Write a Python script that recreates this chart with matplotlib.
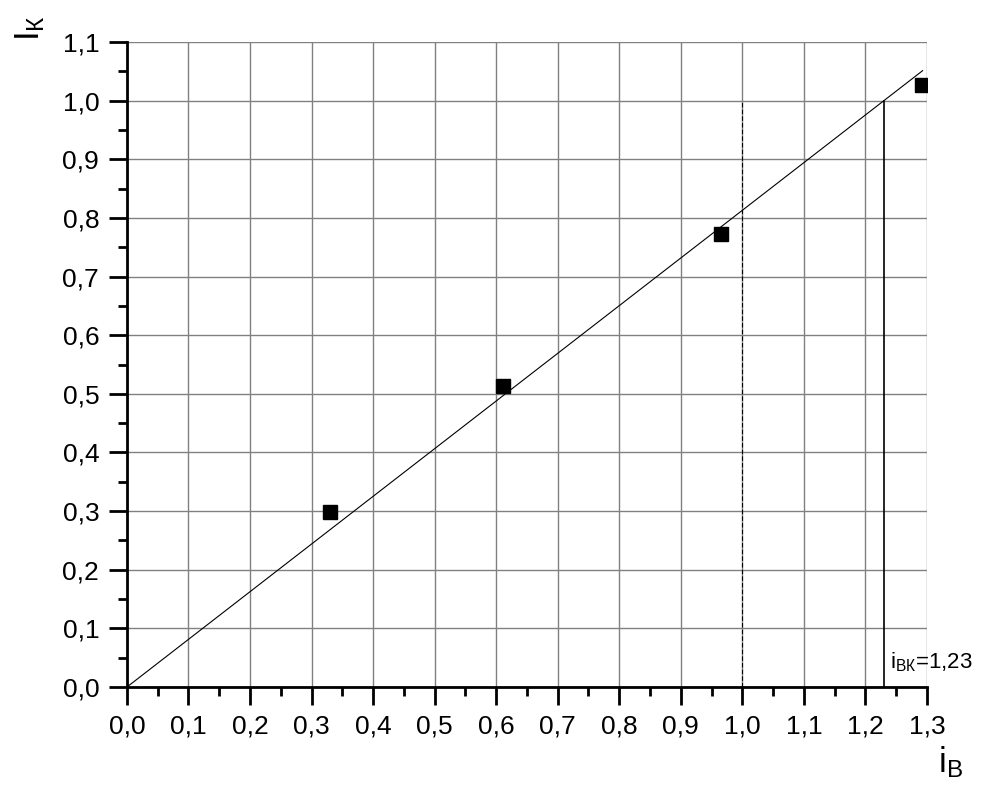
import numpy as np
import matplotlib
matplotlib.use('Agg')
import matplotlib.pyplot as plt
from matplotlib.ticker import MultipleLocator, FuncFormatter

plt.rcParams['font.family'] = ['Liberation Sans', 'DejaVu Sans']
plt.rcParams['mathtext.default'] = 'regular'

# measured points
i_b = [0.33, 0.611, 0.965, 1.292]
i_k = [0.298, 0.514, 0.773, 1.027]
i_bk = 1.23          # where the fit reaches I_K = 1
fit_end = 1.293

x_ticks_major = 0.1
y_ticks_major = 0.1

fig = plt.figure(figsize=(9.84, 7.95), dpi=100)
ax = fig.add_axes([0.129, 0.1358, 0.813, 0.8113])

comma = FuncFormatter(lambda v, p: f'{v:.1f}'.replace('.', ','))

ax.set_xlim(0, 1.3)
ax.set_ylim(0, 1.1)
ax.xaxis.set_major_locator(MultipleLocator(x_ticks_major))
ax.xaxis.set_minor_locator(MultipleLocator(x_ticks_major / 2))
ax.yaxis.set_major_locator(MultipleLocator(y_ticks_major))
ax.yaxis.set_minor_locator(MultipleLocator(y_ticks_major / 2))
ax.xaxis.set_major_formatter(comma)
ax.yaxis.set_major_formatter(comma)

ax.grid(True, which='major', color='#808080', lw=1.0)
ax.set_axisbelow(True)
# no grid lines on the far edges
ax.xaxis.get_gridlines()[-1].set_visible(False)
ax.yaxis.get_gridlines()[-1].set_visible(False)

for s in ['top', 'right']:
    ax.spines[s].set_visible(False)
for s in ['left', 'bottom']:
    ax.spines[s].set_linewidth(2)

ax.tick_params(which='major', direction='out', length=13, width=2, labelsize=19, pad=7)
ax.tick_params(which='minor', direction='out', length=6.5, width=2)

# linear fit through origin
k = 1.0 / i_bk
xf = np.array([0.0, fit_end])
ax.plot(xf, k * xf, color='black', lw=0.8)

ax.plot([1.0, 1.0], [0, 1.0], color='black', lw=0.8, ls=(0, (4, 2)))
ax.plot([i_bk, i_bk], [0, 1.0], color='black', lw=1.2)

ax.plot(i_b, i_k, ls='none', marker='s', ms=9.5, color='black', zorder=5)

ax.text(1.240, 0.032, 'i$_{ВК}$=1,23', fontsize=16, ha='left', va='baseline')

# axis names at the corners, like the original
fig.text(30 / 984, 1 - 28 / 795, 'I$_К$', fontsize=25, rotation=90,
         ha='center', va='center')
fig.text(950 / 984, 1 - 762 / 795, 'i$_В$', fontsize=25,
         ha='center', va='center')

fig.savefig('out.png', dpi=100)
